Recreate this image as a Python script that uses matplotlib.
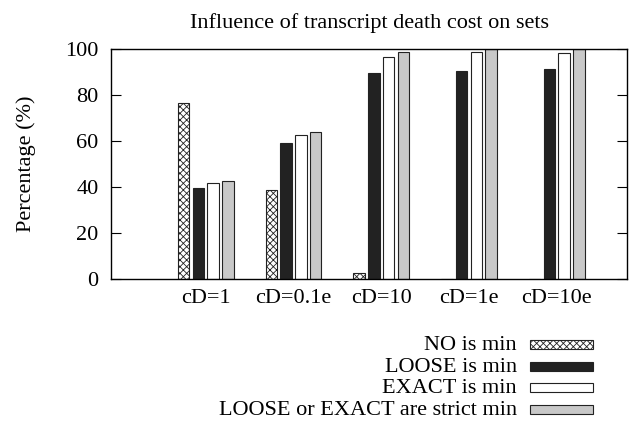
import numpy as np
import matplotlib.pyplot as plt
from matplotlib.patches import Rectangle

plt.rcParams['font.family'] = ['Liberation Serif', 'DejaVu Serif']
plt.rcParams['hatch.linewidth'] = 0.6

## 各組資料
groups = ['cD=1', 'cD=0.1e', 'cD=10', 'cD=1e', 'cD=10e']
no_min = [76.7, 38.5, 2.7, 0, 0]
loose_min = [39.6, 59.3, 89.7, 90.6, 91.2]
exact_min = [41.9, 62.5, 96.7, 98.6, 98.1]
strict_min = [42.5, 63.9, 98.6, 100, 100]
labels = ['NO is min', 'LOOSE is min', 'EXACT is min', 'LOOSE or EXACT are strict min']

W, H = 643, 422
fig = plt.figure(figsize=(W/100, H/100), dpi=100)
ax = fig.add_axes([111/W, 1-279/H, (627-111)/W, (279-49)/H])

x = np.arange(len(groups))
w = 0.131
step = 0.168
styles = [
    dict(facecolor='white', hatch='xxxxx'),
    dict(facecolor='#222222'),
    dict(facecolor='white'),
    dict(facecolor='#c8c8c8'),
]
series = [no_min, loose_min, exact_min, strict_min]
for k, (vals, st) in enumerate(zip(series, styles)):
    ax.bar(x + (k - 1.5) * step, vals, w, edgecolor='#222222', linewidth=0.8, **st)

ax.set_xlim(-1.08, 4.8)
ax.set_ylim(0, 100)
ax.set_yticks(range(0, 101, 20))
ax.set_xticks(x)
ax.set_xticklabels(groups, fontsize=16)
ax.tick_params(axis='y', direction='in', length=7, right=True, labelsize=16, width=0.8, pad=9)
ax.tick_params(axis='x', length=0, pad=7)
for s in ax.spines.values():
    s.set_linewidth(1.0)
ax.set_ylabel('Percentage (%)', fontsize=16, labelpad=21)
ax.set_title('Influence of transcript death cost on sets', fontsize=16, pad=15)

# 圖例 (手動畫在軸下方右側)
for i, (lab, st) in enumerate(zip(labels, styles)):
    yc = 344.5 + 21.7 * i
    fig.text(517/W, 1 - (yc + 1)/H, lab, ha='right', va='center', fontsize=16)
    fig.patches.append(Rectangle((530/W, 1 - (yc + 4.5)/H), 63/W, 9/H,
                                 transform=fig.transFigure, edgecolor='#222222',
                                 linewidth=0.8, **st))

plt.savefig('out.png')
